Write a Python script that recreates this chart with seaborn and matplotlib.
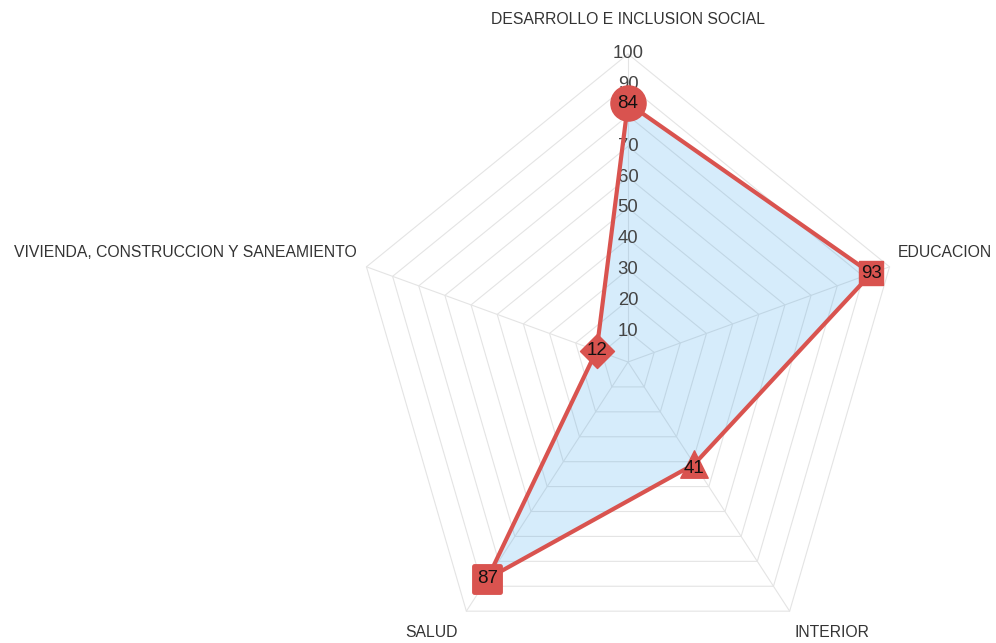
import numpy as np
import pandas as pd
import matplotlib
matplotlib.use("Agg")
import matplotlib.pyplot as plt
import seaborn as sns

categories = ["DESARROLLO E INCLUSION SOCIAL", "EDUCACION", "INTERIOR", "SALUD",
              "VIVIENDA, CONSTRUCCION Y SANEAMIENTO"]
values = [84, 93, 41, 87, 12]
tick_values = [10, 20, 30, 40, 50, 60, 70, 80, 90, 100]
tick_labels = ["10", "20", "30", "40", "50", "60", "70", "80", "90", "100"]

sns.set_theme(style="white")
plt.rcParams["font.family"] = ["Liberation Sans", "DejaVu Sans"]

RED = "#d9534f"
W, H = 996, 643
fig = plt.figure(figsize=(W / 100, H / 100), dpi=100)
ax = fig.add_axes([0, 0, 1, 1])
cx, cy = 628, 362          # centre in pixels
sx, sy = 2.75, 3.08        # pixels per unit
ax.set_xlim(-cx / sx, (W - cx) / sx)
ax.set_ylim(-(H - cy) / sy, cy / sy)
ax.axis("off")

n = len(categories)
angles = np.deg2rad(90 - 360 / n * np.arange(n))
ux, uy = np.cos(angles), np.sin(angles)

# grid rings and spokes
for t in tick_values:
    gx = np.append(ux * t, ux[0] * t)
    gy = np.append(uy * t, uy[0] * t)
    ax.plot(gx, gy, color="#e4e4e4", lw=0.8, zorder=1)
for i in range(n):
    ax.plot([0, ux[i] * 100], [0, uy[i] * 100], color="#e4e4e4", lw=0.8, zorder=1)

# tick labels along top spoke
for t, lab in zip(tick_values, tick_labels):
    ax.text(0, t, lab, ha="center", va="center", fontsize=13.3, color="#444444", zorder=3)

# data polygon
vals = np.array(values, dtype=float)
px, py = ux * vals, uy * vals
df = pd.DataFrame({"x": np.append(px, px[0]), "y": np.append(py, py[0]),
                   "order": np.arange(n + 1)})
ax.fill(px, py, color="#36a2eb", alpha=0.2, lw=0, zorder=2)
sns.lineplot(data=df, x="x", y="y", sort=False, color=RED, lw=3, ax=ax, zorder=4,
             estimator=None)

markers = ["o", "s", "^", "s", "D"]
sizes = [640, 310, 390, 360, 300]
rounded = [False, False, False, True, False]
for i in range(n):
    sns.scatterplot(x=[px[i]], y=[py[i]], marker=markers[i], s=sizes[i], color=RED,
                    edgecolor=RED, linewidth=3.5 if rounded[i] else 1, ax=ax, zorder=5,
                    legend=False)
    coll = ax.collections[-1]
    if rounded[i]:
        coll.set_joinstyle("round")
    ax.text(px[i], py[i] - (1.5 if markers[i] == "^" else 0), str(values[i]),
            ha="center", va="center", fontsize=13.5, color="#111111", zorder=6)

# category labels
label_pos = [(0, 111.2, "center"), (98.2, 35.4, "left"), (60.7, -87.7, "left"),
             (-61.8, -87.7, "right"), (-98.5, 35.4, "right")]
for (lx, ly, ha), cat in zip(label_pos, categories):
    ax.text(lx, ly, cat, ha=ha, va="center", fontsize=11.3, color="#333333")

fig.savefig("out.png", dpi=100)
